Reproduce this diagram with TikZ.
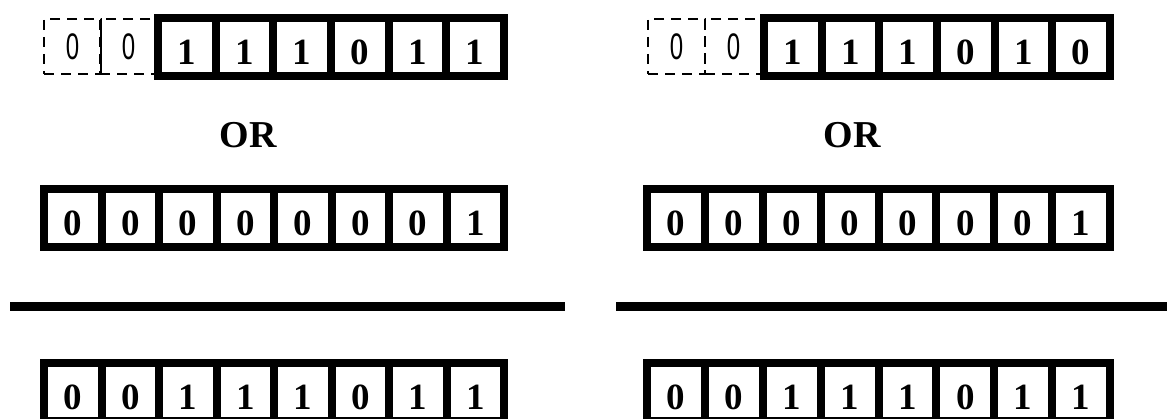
\documentclass[tikz,border=0pt]{standalone}
\usepackage{fontspec}
\setmainfont{Liberation Serif}
\setsansfont{Liberation Sans}
\usetikzlibrary{positioning}

\begin{document}
\begin{tikzpicture}[x=1pt,y=-1pt,every node/.style={align=center},bit/.style={draw,line width=8pt,outer sep=0pt,inner sep=0pt,minimum height=58pt,font=\fontsize{37}{37}\selectfont\bfseries,text height=35pt,text depth=0pt},pad/.style={draw,dashed,dash pattern=on 10pt off 7pt,line width=2.5pt,outer sep=0pt,inner sep=0pt,minimum width=57pt,minimum height=55pt,font=\sffamily\fontsize{37}{37}\selectfont,text height=27pt,text depth=0pt},orword/.style={font=\fontsize{38}{38}\selectfont\bfseries,inner sep=0pt,text height=25pt,text depth=0pt},rule/.style={line width=9pt}]
\clip (0,0) rectangle (1167,419);
% left column
\node[pad] (lp1) at (72.5,46.5) {\scalebox{0.65}[1]{0}}; \node[pad] (lp2) at (128.5,46.5) {\scalebox{0.65}[1]{0}};
\draw[line width=2.5pt] (lp1.north east) -- (lp1.south east);
\foreach \b [count=\i] in {1,1,1,0,1,1} \node[bit,minimum width=57.67pt] (lt\i) at ({158+57.67*(\i-0.5)},47) {\b};
\node[orword] (lor) at (248,135) {OR};
\foreach \b [count=\i] in {0,0,0,0,0,0,0,1} \node[bit,minimum width=57.5pt] (lm\i) at ({44+57.5*(\i-0.5)},218) {\b};
\coordinate (ll1) at (10,306.5); \coordinate (ll2) at (565,306.5);
\draw[rule] (ll1) -- (ll2);
\foreach \b [count=\i] in {0,0,1,1,1,0,1,1} \node[bit,minimum width=57.5pt] (lb\i) at ({44+57.5*(\i-0.5)},392) {\b};
% right column
\node[pad] (rp1) at (676.5,46.5) {\scalebox{0.65}[1]{0}}; \node[pad] (rp2) at (733.5,46.5) {\scalebox{0.65}[1]{0}};
\foreach \b [count=\i] in {1,1,1,0,1,0} \node[bit,minimum width=57.67pt] (rt\i) at ({764+57.67*(\i-0.5)},47) {\b};
\node[orword] (ror) at (852,135) {OR};
\foreach \b [count=\i] in {0,0,0,0,0,0,0,1} \node[bit,minimum width=57.875pt] (rm\i) at ({647+57.875*(\i-0.5)},218) {\b};
\coordinate (rl1) at (616,306.5); \coordinate (rl2) at (1167,306.5);
\draw[rule] (rl1) -- (rl2);
\foreach \b [count=\i] in {0,0,1,1,1,0,1,1} \node[bit,minimum width=57.875pt] (rb\i) at ({647+57.875*(\i-0.5)},392) {\b};
\end{tikzpicture}
\end{document}
